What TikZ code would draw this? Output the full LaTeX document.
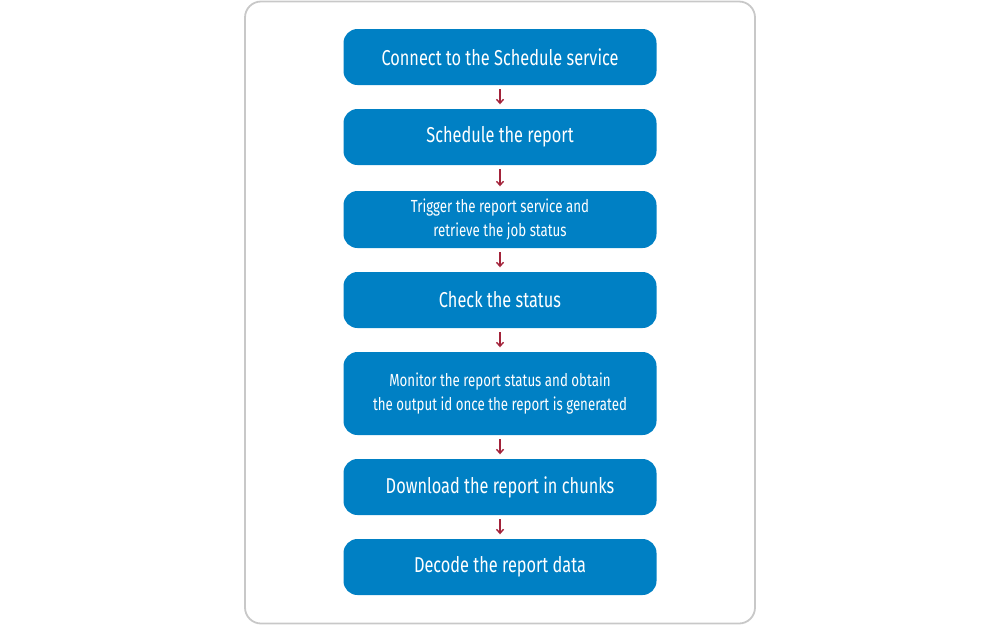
\documentclass[tikz,border=0pt]{standalone}
\usepackage{fontspec}
\setmainfont[FakeStretch=0.76]{Fira Sans}
\usetikzlibrary{arrows.meta}
\definecolor{boxblue}{HTML}{0080C4}
\definecolor{arrred}{HTML}{A3233A}
\definecolor{framegray}{HTML}{C8C8C8}
\tikzset{
  stepbox/.style={fill=boxblue, rounded corners=14pt, minimum width=313pt, text=white, align=center, inner sep=0pt, font=\fontsize{21.5}{23}\selectfont},
  smallbox/.style={stepbox, font=\fontsize{17.5}{24}\selectfont},
  flowarrow/.style={draw=arrred, line width=1.6pt, -{Straight Barb[length=4pt,width=7pt,line width=1.4pt]}}
}
\begin{document}
\begin{tikzpicture}[x=1pt,y=-1pt]
\useasboundingbox (0,0) rectangle (1000,625);
\draw[framegray, line width=1.8pt, rounded corners=16pt] (245,1.5) rectangle (755,623.5);
\node[stepbox, minimum height=56pt] (b1) at (500,57) {Connect to the Schedule service};
\node[stepbox, minimum height=56pt] (b2) at (500,137) {Schedule the report};
\node[smallbox, minimum height=57pt] (b3) at (500,219.5) {Trigger the report service and\\retrieve the job status};
\node[stepbox, minimum height=56pt] (b4) at (500,300) {Check the status};
\node[smallbox, minimum height=83pt] (b5) at (500,393.5) {Monitor the report status and obtain\\the output id once the report is generated};
\node[stepbox, minimum height=56pt] (b6) at (500,487) {Download the report in chunks};
\node[stepbox, minimum height=56pt] (b7) at (500,567) {Decode the report data};
\foreach \a/\b in {b1/b2,b2/b3,b3/b4,b4/b5,b5/b6,b6/b7}{
  \draw[flowarrow] ([yshift=-4pt]\a.south) -- ([yshift=4.5pt]\b.north);
}
\end{tikzpicture}
\end{document}
